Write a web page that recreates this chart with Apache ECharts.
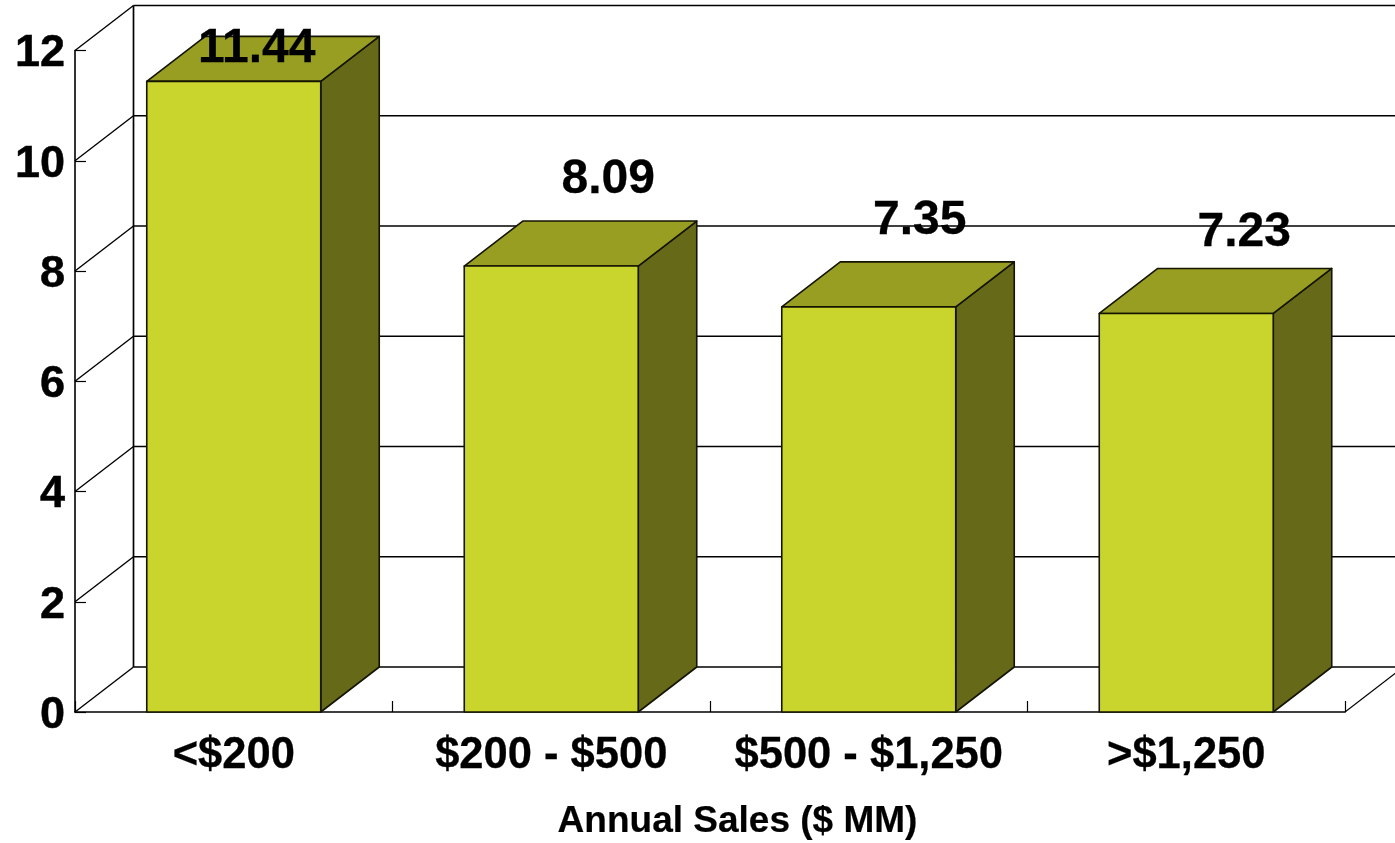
<!DOCTYPE html>
<html>
<head>
<meta charset="utf-8">
<style>html,body{margin:0;padding:0;background:#fff}#c{width:1395px;height:843px}</style>
<script src="https://cdn.jsdelivr.net/npm/echarts@6/dist/echarts.min.js"></script>
</head>
<body>
<div id="c"></div>
<script>
const categories = ['<$200', '$200 - $500', '$500 - $1,250', '>$1,250'];
const salesValues = [11.44, 8.09, 7.35, 7.23];
const valueLabels = ['11.44', '8.09', '7.35', '7.23'];
const yTicks = [0, 2, 4, 6, 8, 10, 12];
const axisTitle = 'Annual Sales ($ MM)';

const FONT = '"Liberation Sans", Arial, sans-serif';
const DEPTH_X = 58.5, DEPTH_Y = -45;
const LINE = '#000', EDGE = '#141403';
const FRONT = '#C9D42C', TOP = '#979E21', SIDE = '#666A18';
const BAR_FRACTION = 0.548;
const LABEL_SHIFT = [[23, -33], [57, -86], [51, -86], [58, -81]];

const chart = echarts.init(document.getElementById('c'), null, {renderer: 'canvas'});

function seg(x1, y1, x2, y2, w) {
  return {type: 'line', shape: {x1, y1, x2, y2}, style: {stroke: LINE, lineWidth: w || 1.4, fill: null}};
}

function renderWall(params, api) {
  const v = api.value(0);
  const p = api.coord([0, v]);
  const x0 = api.coord([0, 0])[0] - api.size([1, 0])[0] / 2;
  const bx = x0 + DEPTH_X, by = p[1] + DEPTH_Y;
  const children = [
    seg(x0, p[1], bx, by),
    seg(bx, by, chart.getWidth(), by, 1.7)
  ];
  if (v === 0) {
    const top = api.coord([0, yTicks[yTicks.length - 1]])[1] + DEPTH_Y;
    children.push(seg(bx, by, bx, top, 1.7));
    const xEnd = api.coord([categories.length - 1, 0])[0] + api.size([1, 0])[0] / 2;
    children.push(seg(xEnd, p[1], xEnd + DEPTH_X, by, 1.1));
  }
  return {type: 'group', children};
}

function renderBar(params, api) {
  const i = api.value(0), v = api.value(1);
  const top = api.coord([i, v]), base = api.coord([i, 0]);
  const w = api.size([1, 0])[0] * BAR_FRACTION;
  const l = top[0] - w / 2, r = top[0] + w / 2, t = top[1], b = base[1];
  const edge = {stroke: EDGE, lineWidth: 1.6, lineJoin: 'round'};
  return {type: 'group', children: [
    {type: 'polygon', shape: {points: [[r, t], [r + DEPTH_X, t + DEPTH_Y], [r + DEPTH_X, b + DEPTH_Y], [r, b]]}, style: {fill: SIDE, ...edge}},
    {type: 'polygon', shape: {points: [[l, t], [l + DEPTH_X, t + DEPTH_Y], [r + DEPTH_X, t + DEPTH_Y], [r, t]]}, style: {fill: TOP, ...edge}},
    {type: 'rect', shape: {x: l, y: t, width: w, height: b - t}, style: {fill: FRONT, ...edge}}
  ]};
}

function renderLabel(params, api) {
  const i = api.value(0), v = api.value(1);
  const top = api.coord([i, v]);
  const s = LABEL_SHIFT[i];
  return {type: 'text', style: {
    x: top[0] + s[0], y: top[1] + s[1], text: valueLabels[i],
    font: 'bold 48px ' + FONT, fill: '#000', stroke: '#000', lineWidth: 0.3,
    textAlign: 'center', textVerticalAlign: 'middle'
  }};
}

chart.setOption({
  animation: false,
  backgroundColor: '#fff',
  graphic: [{
    type: 'text', x: 737.5, y: 822,
    style: {text: axisTitle, font: 'bold 37px ' + FONT, fill: '#000', stroke: '#000', lineWidth: 0.2,
            textAlign: 'center', textVerticalAlign: 'middle'}
  }],
  grid: {left: 75, top: 50.5, width: 1270, height: 661.5},
  xAxis: {
    type: 'category', data: categories,
    axisLine: {lineStyle: {color: LINE, width: 1.6}},
    axisTick: {show: true, inside: true, length: 11, lineStyle: {color: LINE, width: 1.2}, alignWithLabel: false},
    axisLabel: {margin: 22, fontFamily: FONT, fontWeight: 'bold', fontSize: 43.5, color: '#000', interval: 0,
                textBorderColor: '#000', textBorderWidth: 0.3},
    splitLine: {show: false}
  },
  yAxis: {
    type: 'value', min: 0, max: 12, interval: 2,
    axisLine: {show: true, lineStyle: {color: LINE, width: 1.6}},
    axisTick: {show: true, inside: true, length: 11, lineStyle: {color: LINE, width: 1.2}},
    axisLabel: {margin: 10, formatter: '{a|{value}}',
                rich: {a: {padding: [7, 0, 0, 0], fontFamily: FONT, fontWeight: 'bold', fontSize: 45, color: '#000',
                           textBorderColor: '#000', textBorderWidth: 0.5}}},
    splitLine: {show: false}
  },
  series: [
    {type: 'custom', coordinateSystem: 'cartesian2d', z: 1, silent: true, renderItem: renderWall,
     data: yTicks.map(v => [v]), encode: {x: -1, y: 0}},
    {type: 'custom', coordinateSystem: 'cartesian2d', z: 2, silent: true, renderItem: renderBar,
     data: salesValues.map((v, i) => [i, v]), encode: {x: 0, y: 1}},
    {type: 'custom', coordinateSystem: 'cartesian2d', z: 3, silent: true, renderItem: renderLabel,
     data: salesValues.map((v, i) => [i, v]), encode: {x: 0, y: 1}}
  ]
});
</script>
</body>
</html>
